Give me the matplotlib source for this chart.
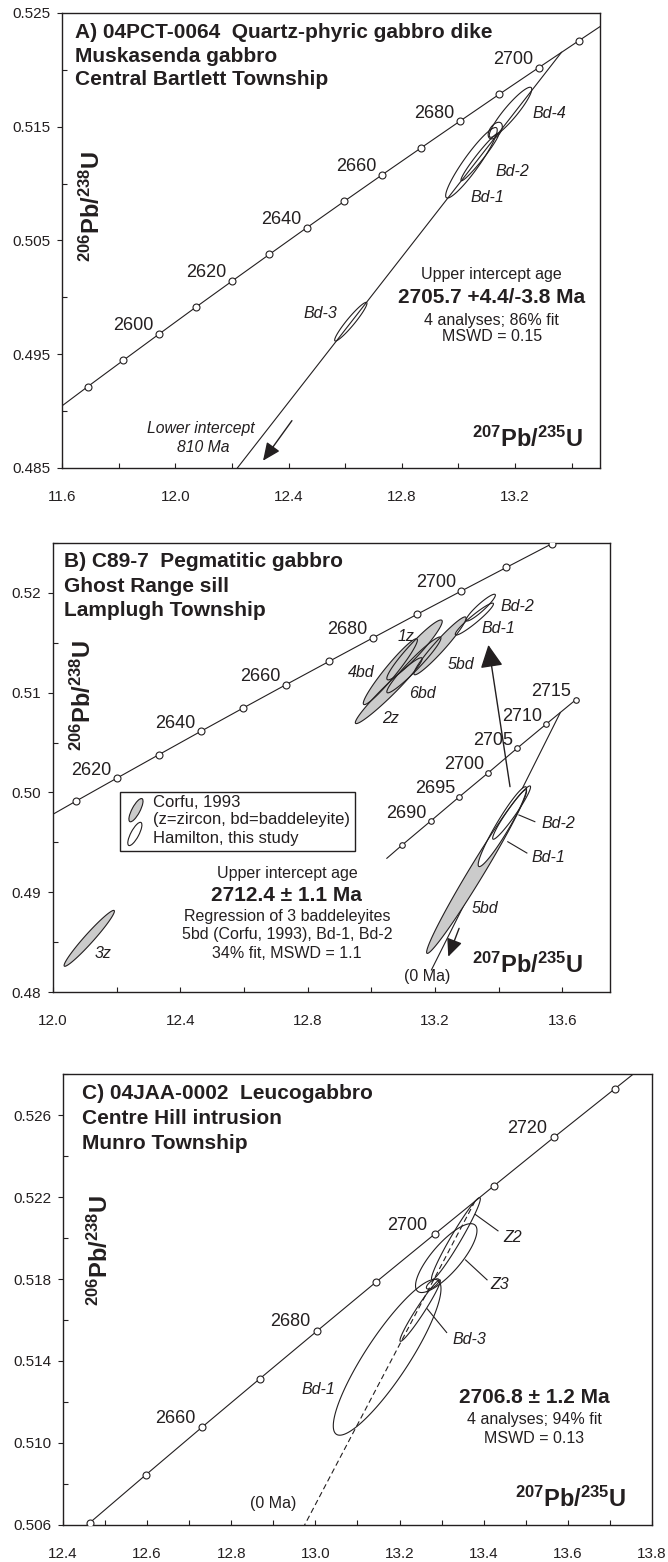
import numpy as np
import matplotlib.pyplot as plt
import matplotlib.transforms as mtrans
from matplotlib.patches import Polygon, Rectangle, Ellipse
from matplotlib.ticker import MultipleLocator, FixedLocator, FormatStrFormatter

plt.rcParams['font.family'] = ['Liberation Sans', 'DejaVu Sans']
plt.rcParams['mathtext.fontset'] = 'custom'
plt.rcParams['mathtext.rm'] = 'Liberation Sans'
plt.rcParams['mathtext.bf'] = 'Liberation Sans:bold'
plt.rcParams['mathtext.it'] = 'Liberation Sans:italic'

INK = '#231f20'
GREY = '#cbcbcb'

# concordia points (age Ma, 207Pb/235U, 206Pb/238U)
conc_age = [2560, 2570, 2580, 2590, 2600, 2610, 2620, 2630, 2640, 2650,
            2660, 2670, 2680, 2690, 2700, 2710, 2720, 2730, 2740]
conc_x = [11.4437, 11.5669, 11.6913, 11.8169, 11.9437, 12.0718, 12.2012,
          12.3319, 12.4638, 12.5971, 12.7316, 12.8675, 13.0048, 13.1434,
          13.2834, 13.4247, 13.5675, 13.7117, 13.8573]
conc_y = [0.48753, 0.48984, 0.49216, 0.49447, 0.49679, 0.49912, 0.50144,
          0.50377, 0.50611, 0.50845, 0.51079, 0.51313, 0.51548, 0.51784,
          0.52019, 0.52255, 0.52492, 0.52728, 0.52966]

# ---------- panel A ----------
a_yticks = [0.485, 0.495, 0.505, 0.515, 0.525]
a_marks = (2580, 2710)
a_labels = [2600, 2620, 2640, 2660, 2680, 2700]
a_cx = [13.184, 13.130, 13.076, 13.046, 12.620]
a_cy = [0.51627, 0.51466, 0.51235, 0.51183, 0.49786]
a_hx = [0.075, 0.025, 0.067, 0.091, 0.057]
a_hy = [0.0022, 0.00073, 0.0021, 0.0031, 0.0017]
a_rho = [0.92, 0.5, 0.97, 0.93, 0.95]
a_lab_t = ['Bd-4', 'Bd-2', 'Bd-1', 'Bd-3']
a_lab_x = [13.320, 13.189, 13.104, 12.511]
a_lab_y = [0.51612, 0.51102, 0.50874, 0.49854]
a_disc_x = [13.364, 1.2205]      # upper intercept 2705.7 Ma, lower 810 Ma
a_disc_y = [0.52154, 0.13389]
a_arrow_x = [12.412, 12.310]
a_arrow_y = [0.48916, 0.48564]

# ---------- panel B ----------
b_yticks = [0.48, 0.49, 0.50, 0.51, 0.52]
b_marks = (2610, 2720)
b_labels = [2620, 2640, 2660, 2680, 2700]
b_grey_cx = [13.055, 13.060, 13.136, 13.134, 13.216, 12.114, 13.331]
b_grey_cy = [0.5102, 0.5121, 0.51428, 0.51278, 0.51469, 0.48538, 0.49207]
b_grey_hx = [0.105, 0.085, 0.087, 0.085, 0.082, 0.079, 0.157]
b_grey_hy = [0.0033, 0.0033, 0.0030, 0.0028, 0.0029, 0.0028, 0.0082]
b_grey_rho = [0.97, 0.96, 0.95, 0.96, 0.96, 0.97, 0.985]
b_white_cx = [13.324, 13.344, 13.412, 13.441]
b_white_cy = [0.51737, 0.51852, 0.49657, 0.49798]
b_white_hx = [0.060, 0.046, 0.076, 0.0595]
b_white_hy = [0.0016, 0.00134, 0.0040, 0.00267]
b_white_rho = [0.95, 0.93, 0.95, 0.96]
b_lab_t = ['1z', '4bd', '6bd', '2z', '5bd', 'Bd-1', 'Bd-2', '3z', '5bd', 'Bd-2', 'Bd-1']
b_lab_x = [13.109, 12.968, 13.162, 13.062, 13.281, 13.401, 13.458, 12.156, 13.357, 13.587, 13.557]
b_lab_y = [0.51561, 0.5120, 0.50994, 0.50743, 0.51284, 0.51645, 0.51862, 0.48388, 0.48839, 0.49691, 0.49346]
# enlarged concordia segment (inset)
inset_age = [2685, 2690, 2695, 2700, 2705, 2710, 2715]
inset_x = [13.096, 13.187, 13.277, 13.368, 13.458, 13.549, 13.642]
inset_y = [0.4947, 0.49714, 0.49957, 0.50198, 0.50442, 0.50683, 0.50927]
inset_start = (13.049, 0.49340)
b_disc_x = [13.594, 13.189]
b_disc_y = [0.50800, 0.48221]
b_lead_x = [[13.464, 13.514], [13.429, 13.489]]
b_lead_y = [[0.49774, 0.49707], [0.49506, 0.49393]]
b_up_arrow_x = [13.436, 13.368]
b_up_arrow_y = [0.50058, 0.51478]
b_dn_arrow_x = [13.276, 13.242]
b_dn_arrow_y = [0.48638, 0.48354]

# ---------- panel C ----------
c_yticks = [0.506, 0.510, 0.514, 0.518, 0.522, 0.526]
c_marks = (2640, 2730)
c_labels = [2660, 2680, 2700, 2720]
c_cx = [13.334, 13.311, 13.249, 13.1705, 13.279]
c_cy = [0.51997, 0.51902, 0.51646, 0.51418, 0.51776]
c_hx = [0.058, 0.073, 0.048, 0.128, 0.0152]
c_hy = [0.0020, 0.00168, 0.0015, 0.0038, 0.00025]
c_rho = [0.97, 0.80, 0.97, 0.88, 0.7]
c_lab_t = ['Z2', 'Z3', 'Bd-3', 'Bd-1']
c_lab_x = [13.469, 13.439, 13.367, 13.007]
c_lab_y = [0.52003, 0.51773, 0.51507, 0.51259]
c_lead_x = [[13.380, 13.434], [13.357, 13.408], [13.266, 13.312]]
c_lead_y = [[0.52115, 0.52035], [0.51893, 0.51796], [0.51654, 0.51539]]
c_disc_x = [13.3795, 0.0]      # upper intercept 2706.8 Ma to origin
c_disc_y = [0.52180, 0.0]


def ellipse_xy(cx, cy, hx, hy, rho, n=240):
    t = np.linspace(0, 2 * np.pi, n)
    x = cx + hx * np.cos(t)
    y = cy + hy * (rho * np.cos(t) + np.sqrt(1 - rho ** 2) * np.sin(t))
    return np.column_stack([x, y])


def draw_ellipses(ax, cx, cy, hx, hy, rho, face, lw=0.8):
    polys = [ellipse_xy(*p) for p in zip(cx, cy, hx, hy, rho)]
    if face != 'none':
        for p in polys:
            ax.add_patch(Polygon(p, closed=True, fc=face, ec='none', zorder=3))
    for p in polys:
        ax.add_patch(Polygon(p, closed=True, fc='none', ec=INK, lw=lw, zorder=4))


def draw_concordia(ax, marks, labels, off=(-4, 2.5)):
    ax.plot(conc_x, conc_y, color=INK, lw=0.8, zorder=2)
    mx = [x for a, x in zip(conc_age, conc_x) if marks[0] <= a <= marks[1]]
    my = [y for a, y in zip(conc_age, conc_y) if marks[0] <= a <= marks[1]]
    ax.plot(mx, my, 'o', ms=5, mfc='white', mec=INK, mew=0.8, zorder=5)
    for a, x, y in zip(conc_age, conc_x, conc_y):
        if a in labels:
            ax.annotate(str(a), (x, y), xytext=off, textcoords='offset points',
                        ha='right', va='baseline', fontsize=13, color=INK)


def setup(ax, xlim, ylim, xmaj, xmin, yticks, ymin, yfmt):
    ax.set_xlim(*xlim)
    ax.set_ylim(*ylim)
    ax.xaxis.set_major_locator(MultipleLocator(xmaj))
    ax.xaxis.set_minor_locator(MultipleLocator(xmin))
    ax.yaxis.set_major_locator(FixedLocator(yticks))
    ax.yaxis.set_minor_locator(MultipleLocator(ymin))
    ax.xaxis.set_major_formatter(FormatStrFormatter('%.1f'))
    ax.yaxis.set_major_formatter(FormatStrFormatter(yfmt))
    ax.tick_params(which='both', direction='in', length=3.5, width=0.8,
                   color=INK, labelcolor=INK, labelsize=11)
    ax.tick_params(axis='x', pad=16)
    ax.tick_params(axis='y', which='major', direction='out', pad=5)
    for s in ax.spines.values():
        s.set_linewidth(1.0)
        s.set_color(INK)


def axis_labels(ax, ylab_pos, xlab_pos):
    ax.text(*ylab_pos, r'$^{\mathbf{206}}\mathbf{Pb/}^{\mathbf{238}}\mathbf{U}$',
            transform=ax.transAxes, rotation=90, ha='center', va='center',
            fontsize=17, color=INK)
    ax.text(*xlab_pos, r'$^{\mathbf{207}}\mathbf{Pb/}^{\mathbf{235}}\mathbf{U}$',
            transform=ax.transAxes, ha='center', va='center',
            fontsize=17, color=INK)


def title(ax, x, ys, lines):
    for y, s in zip(ys, lines):
        ax.text(x, y, s, transform=ax.transAxes, ha='left', va='center',
                fontsize=15, fontweight='bold', color=INK)


def block(ax, x, ys, lines, bold_idx):
    for i, (y, s) in enumerate(zip(ys, lines)):
        ax.text(x, y, s, transform=ax.transAxes, ha='center', va='center',
                fontsize=15 if i == bold_idx else 11.5,
                fontweight='bold' if i == bold_idx else 'normal', color=INK)


def arrow(ax, xs, ys, scale=12, hl=0.9, hw=0.4):
    ax.annotate('', xy=(xs[1], ys[1]), xytext=(xs[0], ys[0]),
                arrowprops=dict(arrowstyle=f'-|>,head_length={hl},head_width={hw}',
                                color=INK, lw=1.0, mutation_scale=scale,
                                shrinkA=0, shrinkB=0), zorder=6)


fig = plt.figure(figsize=(6.68, 15.62), dpi=100)
axA = fig.add_axes([0.0928, 0.7004, 0.8054, 0.2913])
axB = fig.add_axes([0.0793, 0.3649, 0.8338, 0.2875])
axC = fig.add_axes([0.0943, 0.0237, 0.8817, 0.2887])

# ---- A ----
setup(axA, (11.6, 13.5), (0.485, 0.525), 0.4, 0.2, a_yticks, 0.005, '%.3f')
draw_concordia(axA, a_marks, a_labels)
axA.plot(a_disc_x, a_disc_y, color=INK, lw=0.8, zorder=2)
draw_ellipses(axA, a_cx, a_cy, a_hx, a_hy, a_rho, 'none')
for t, x, y in zip(a_lab_t, a_lab_x, a_lab_y):
    axA.text(x, y, t, style='italic', fontsize=11.5, ha='center', va='center', color=INK)
axA.text(0.258, 0.086, 'Lower intercept', style='italic', fontsize=11.3,
         ha='center', va='center', transform=axA.transAxes, color=INK)
axA.text(0.262, 0.046, '810 Ma', style='italic', fontsize=11.3,
         ha='center', va='center', transform=axA.transAxes, color=INK)
arrow(axA, a_arrow_x, a_arrow_y)
title(axA, 0.024, [0.958, 0.905, 0.853],
      ['A) 04PCT-0064  Quartz-phyric gabbro dike', 'Muskasenda gabbro',
       'Central Bartlett Township'])
block(axA, 0.799, [0.426, 0.374, 0.325, 0.288],
      ['Upper intercept age', '2705.7 +4.4/-3.8 Ma', '4 analyses; 86% fit',
       'MSWD = 0.15'], 1)
axis_labels(axA, (0.056, 0.574), (0.866, 0.062))

# ---- B ----
setup(axB, (12.0, 13.75), (0.48, 0.525), 0.4, 0.2, b_yticks, 0.005, '%.2f')
draw_concordia(axB, b_marks, b_labels)
axB.plot([inset_start[0]] + inset_x, [inset_start[1]] + inset_y, color=INK, lw=0.8, zorder=2)
axB.plot(inset_x, inset_y, 'o', ms=4, mfc='white', mec=INK, mew=0.8, zorder=5)
for a, x, y in zip(inset_age[1:], inset_x[1:], inset_y[1:]):
    axB.annotate(str(a), (x, y), xytext=(-3, 2.5), textcoords='offset points',
                 ha='right', va='baseline', fontsize=13, color=INK)
axB.plot(b_disc_x, b_disc_y, color=INK, lw=0.8, zorder=2)
draw_ellipses(axB, b_grey_cx, b_grey_cy, b_grey_hx, b_grey_hy, b_grey_rho, GREY)
draw_ellipses(axB, b_white_cx, b_white_cy, b_white_hx, b_white_hy, b_white_rho, 'white')
for lx, ly in zip(b_lead_x, b_lead_y):
    axB.plot(lx, ly, color=INK, lw=0.8, zorder=5)
for t, x, y in zip(b_lab_t, b_lab_x, b_lab_y):
    axB.text(x, y, t, style='italic', fontsize=11.5, ha='center', va='center', color=INK)
arrow(axB, b_up_arrow_x, b_up_arrow_y, scale=14, hl=1.0, hw=0.5)
arrow(axB, b_dn_arrow_x, b_dn_arrow_y, scale=12, hl=0.9, hw=0.4)
axB.text(0.671, 0.034, '(0 Ma)', fontsize=11.5, ha='center', va='center',
         transform=axB.transAxes, color=INK)
title(axB, 0.020, [0.958, 0.904, 0.849],
      ['B) C89-7  Pegmatitic gabbro', 'Ghost Range sill', 'Lamplugh Township'])
block(axB, 0.420, [0.264, 0.214, 0.168, 0.127, 0.086],
      ['Upper intercept age', '2712.4 ± 1.1 Ma', 'Regression of 3 baddeleyites',
       '5bd (Corfu, 1993), Bd-1, Bd-2', '34% fit, MSWD = 1.1'], 1)
axis_labels(axB, (0.054, 0.661), (0.852, 0.060))
# legend box
axB.add_patch(Rectangle((0.121, 0.314), 0.421, 0.132, transform=axB.transAxes,
                        fc='white', ec=INK, lw=1.0, zorder=6))
for (ix, iy), fc in zip([(0.149, 0.405), (0.147, 0.352)], [GREY, 'white']):
    tr = fig.dpi_scale_trans + mtrans.ScaledTranslation(ix, iy, axB.transAxes)
    axB.add_patch(Ellipse((0, 0), 0.26, 0.08, angle=62, transform=tr,
                          fc=fc, ec=INK, lw=0.8, zorder=7))
for y, s in zip([0.422, 0.385, 0.342],
                ['Corfu, 1993', '(z=zircon, bd=baddeleyite)', 'Hamilton, this study']):
    axB.text(0.180, y, s, transform=axB.transAxes, ha='left', va='center',
             fontsize=12, color=INK, zorder=7)

# ---- C ----
setup(axC, (12.4, 13.8), (0.506, 0.528), 0.2, 0.1, c_yticks, 0.002, '%.3f')
draw_concordia(axC, c_marks, c_labels, off=(-5, 3))
axC.plot(c_disc_x, c_disc_y, color=INK, lw=0.8, ls=(0, (5, 3)), zorder=2)
draw_ellipses(axC, c_cx, c_cy, c_hx, c_hy, c_rho, 'none')
for lx, ly in zip(c_lead_x, c_lead_y):
    axC.plot(lx, ly, color=INK, lw=0.8, zorder=5)
for t, x, y in zip(c_lab_t, c_lab_x, c_lab_y):
    axC.text(x, y, t, style='italic', fontsize=11.5, ha='center', va='center', color=INK)
axC.text(0.357, 0.048, '(0 Ma)', fontsize=11.5, ha='center', va='center',
         transform=axC.transAxes, color=INK)
title(axC, 0.033, [0.957, 0.902, 0.845],
      ['C) 04JAA-0002  Leucogabbro', 'Centre Hill intrusion', 'Munro Township'])
block(axC, 0.800, [0.282, 0.233, 0.192],
      ['2706.8 ± 1.2 Ma', '4 analyses; 94% fit', 'MSWD = 0.13'], 0)
axis_labels(axC, (0.063, 0.608), (0.862, 0.056))

fig.savefig('out.png', dpi=100)
